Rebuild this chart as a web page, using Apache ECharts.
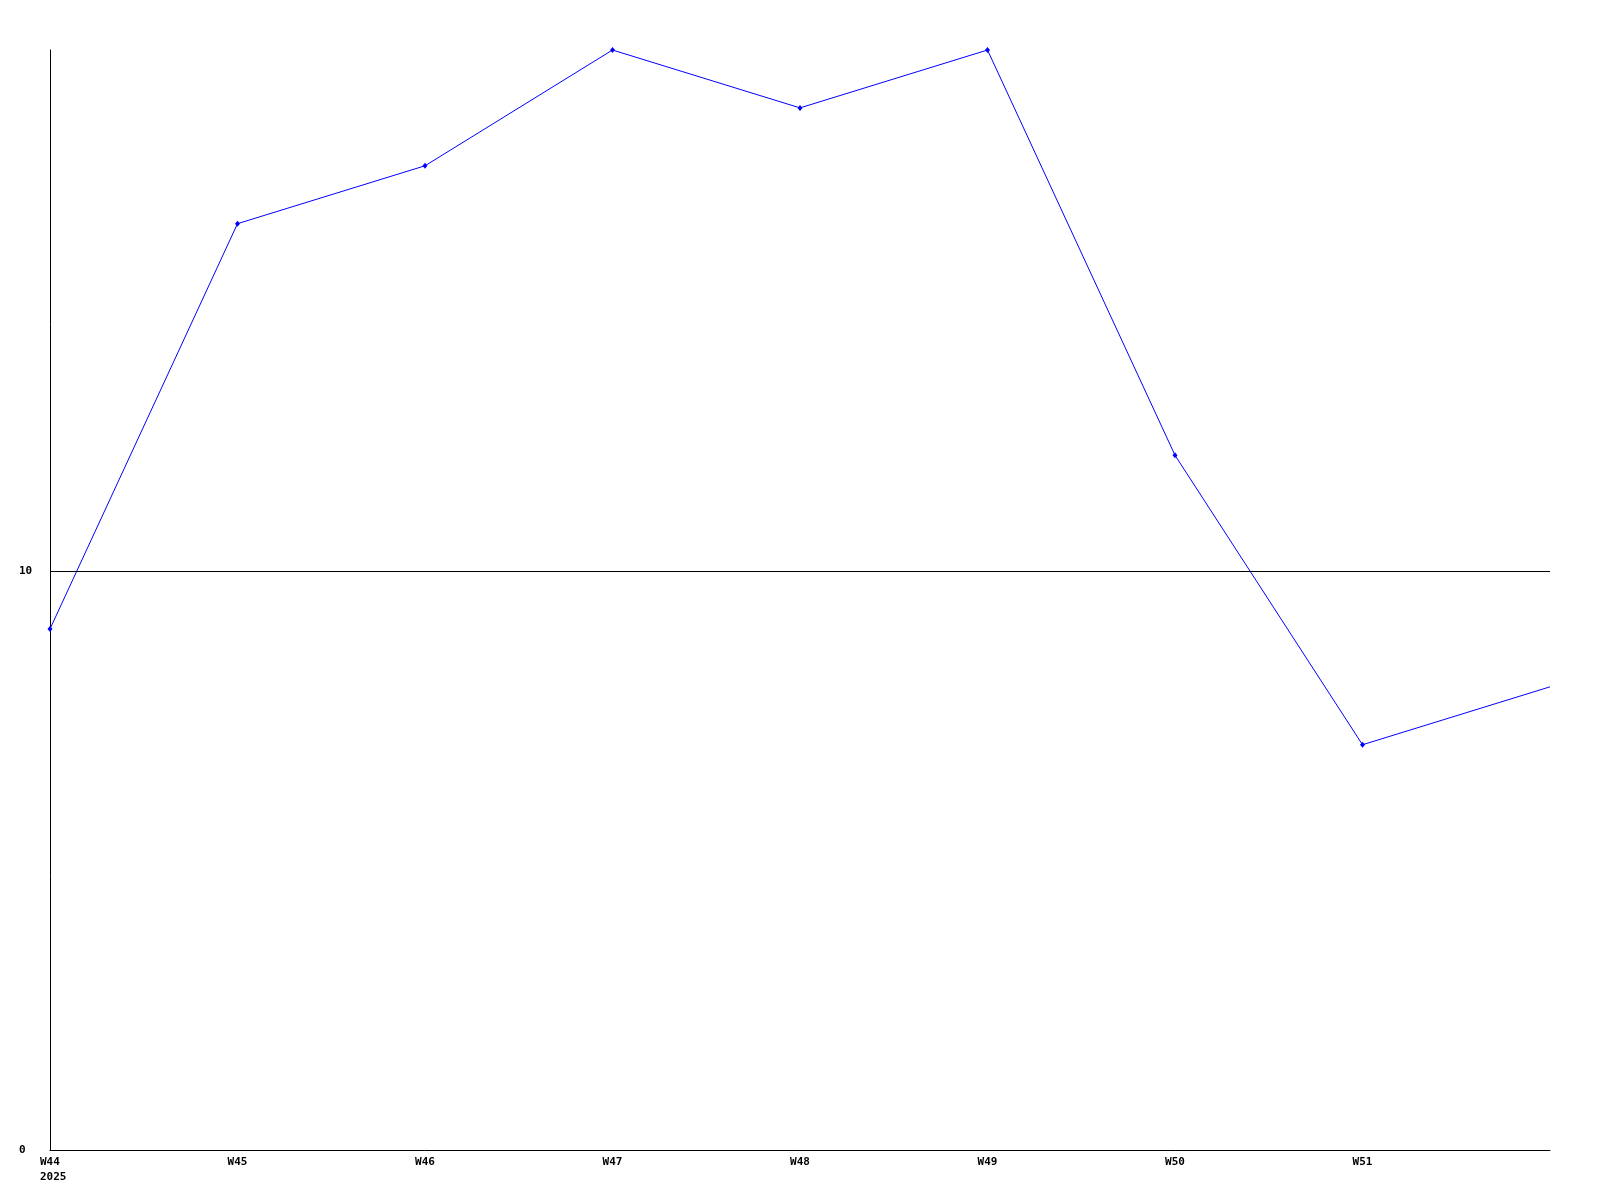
<!DOCTYPE html>
<html>
<head>
<meta charset="utf-8">
<script src="https://cdn.jsdelivr.net/npm/echarts@6/dist/echarts.min.js"></script>
<style>html,body{margin:0;padding:0;background:#fff}#c{width:1600px;height:1200px}</style>
</head>
<body>
<div id="c"></div>
<script>
const weeks = ['W44','W45','W46','W47','W48','W49','W50','W51','W52'];
const values = [9,16,17,19,18,19,12,7,8];
const yearLabel = '2025';
const yMin = 0, yMax = 19, yInterval = 10;
const refLine = 10;

const chart = echarts.init(document.getElementById('c'), null, {renderer:'canvas'});
const font = {fontFamily:'DejaVu Sans Mono', fontWeight:'bold', fontSize:11, color:'#000'};
const seriesData = values.map((v,i)=> i===values.length-1 ? {value:v, symbol:'none'} : v);
chart.setOption({
  animation:false,
  backgroundColor:'#fff',
  grid:{left:50, right:50, top:50, bottom:50},
  xAxis:{
    type:'category', data:weeks, boundaryGap:false,
    axisLine:{lineStyle:{color:'#000', width:1}},
    axisTick:{show:false},
    splitLine:{show:false},
    axisLabel:Object.assign({}, font, {
      margin:5, lineHeight:15, interval:0,
      rich:{ l:Object.assign({}, font, {width:20, align:'left', lineHeight:15}) },
      formatter:(v,i)=> i===0 ? '{l|'+v+'}\n{l|'+yearLabel+'}' : (i===weeks.length-1 ? '' : v)
    })
  },
  yAxis:{
    type:'value', min:yMin, max:yMax, interval:yInterval,
    axisLine:{show:true, lineStyle:{color:'#000', width:1}},
    axisTick:{show:false},
    splitLine:{show:false},
    axisLabel:Object.assign({}, font, {align:'left', margin:31, showMaxLabel:false})
  },
  series:[{
    type:'line', data:seriesData,
    symbol:'diamond', symbolSize:[5,6], showSymbol:true,
    lineStyle:{color:'#0000ff', width:1},
    itemStyle:{color:'#0000ff'},
    markLine:{
      silent:true, symbol:'none', label:{show:false},
      lineStyle:{color:'#000', type:'solid', width:1},
      data:[{yAxis:refLine}]
    }
  }]
});
</script>
</body>
</html>
